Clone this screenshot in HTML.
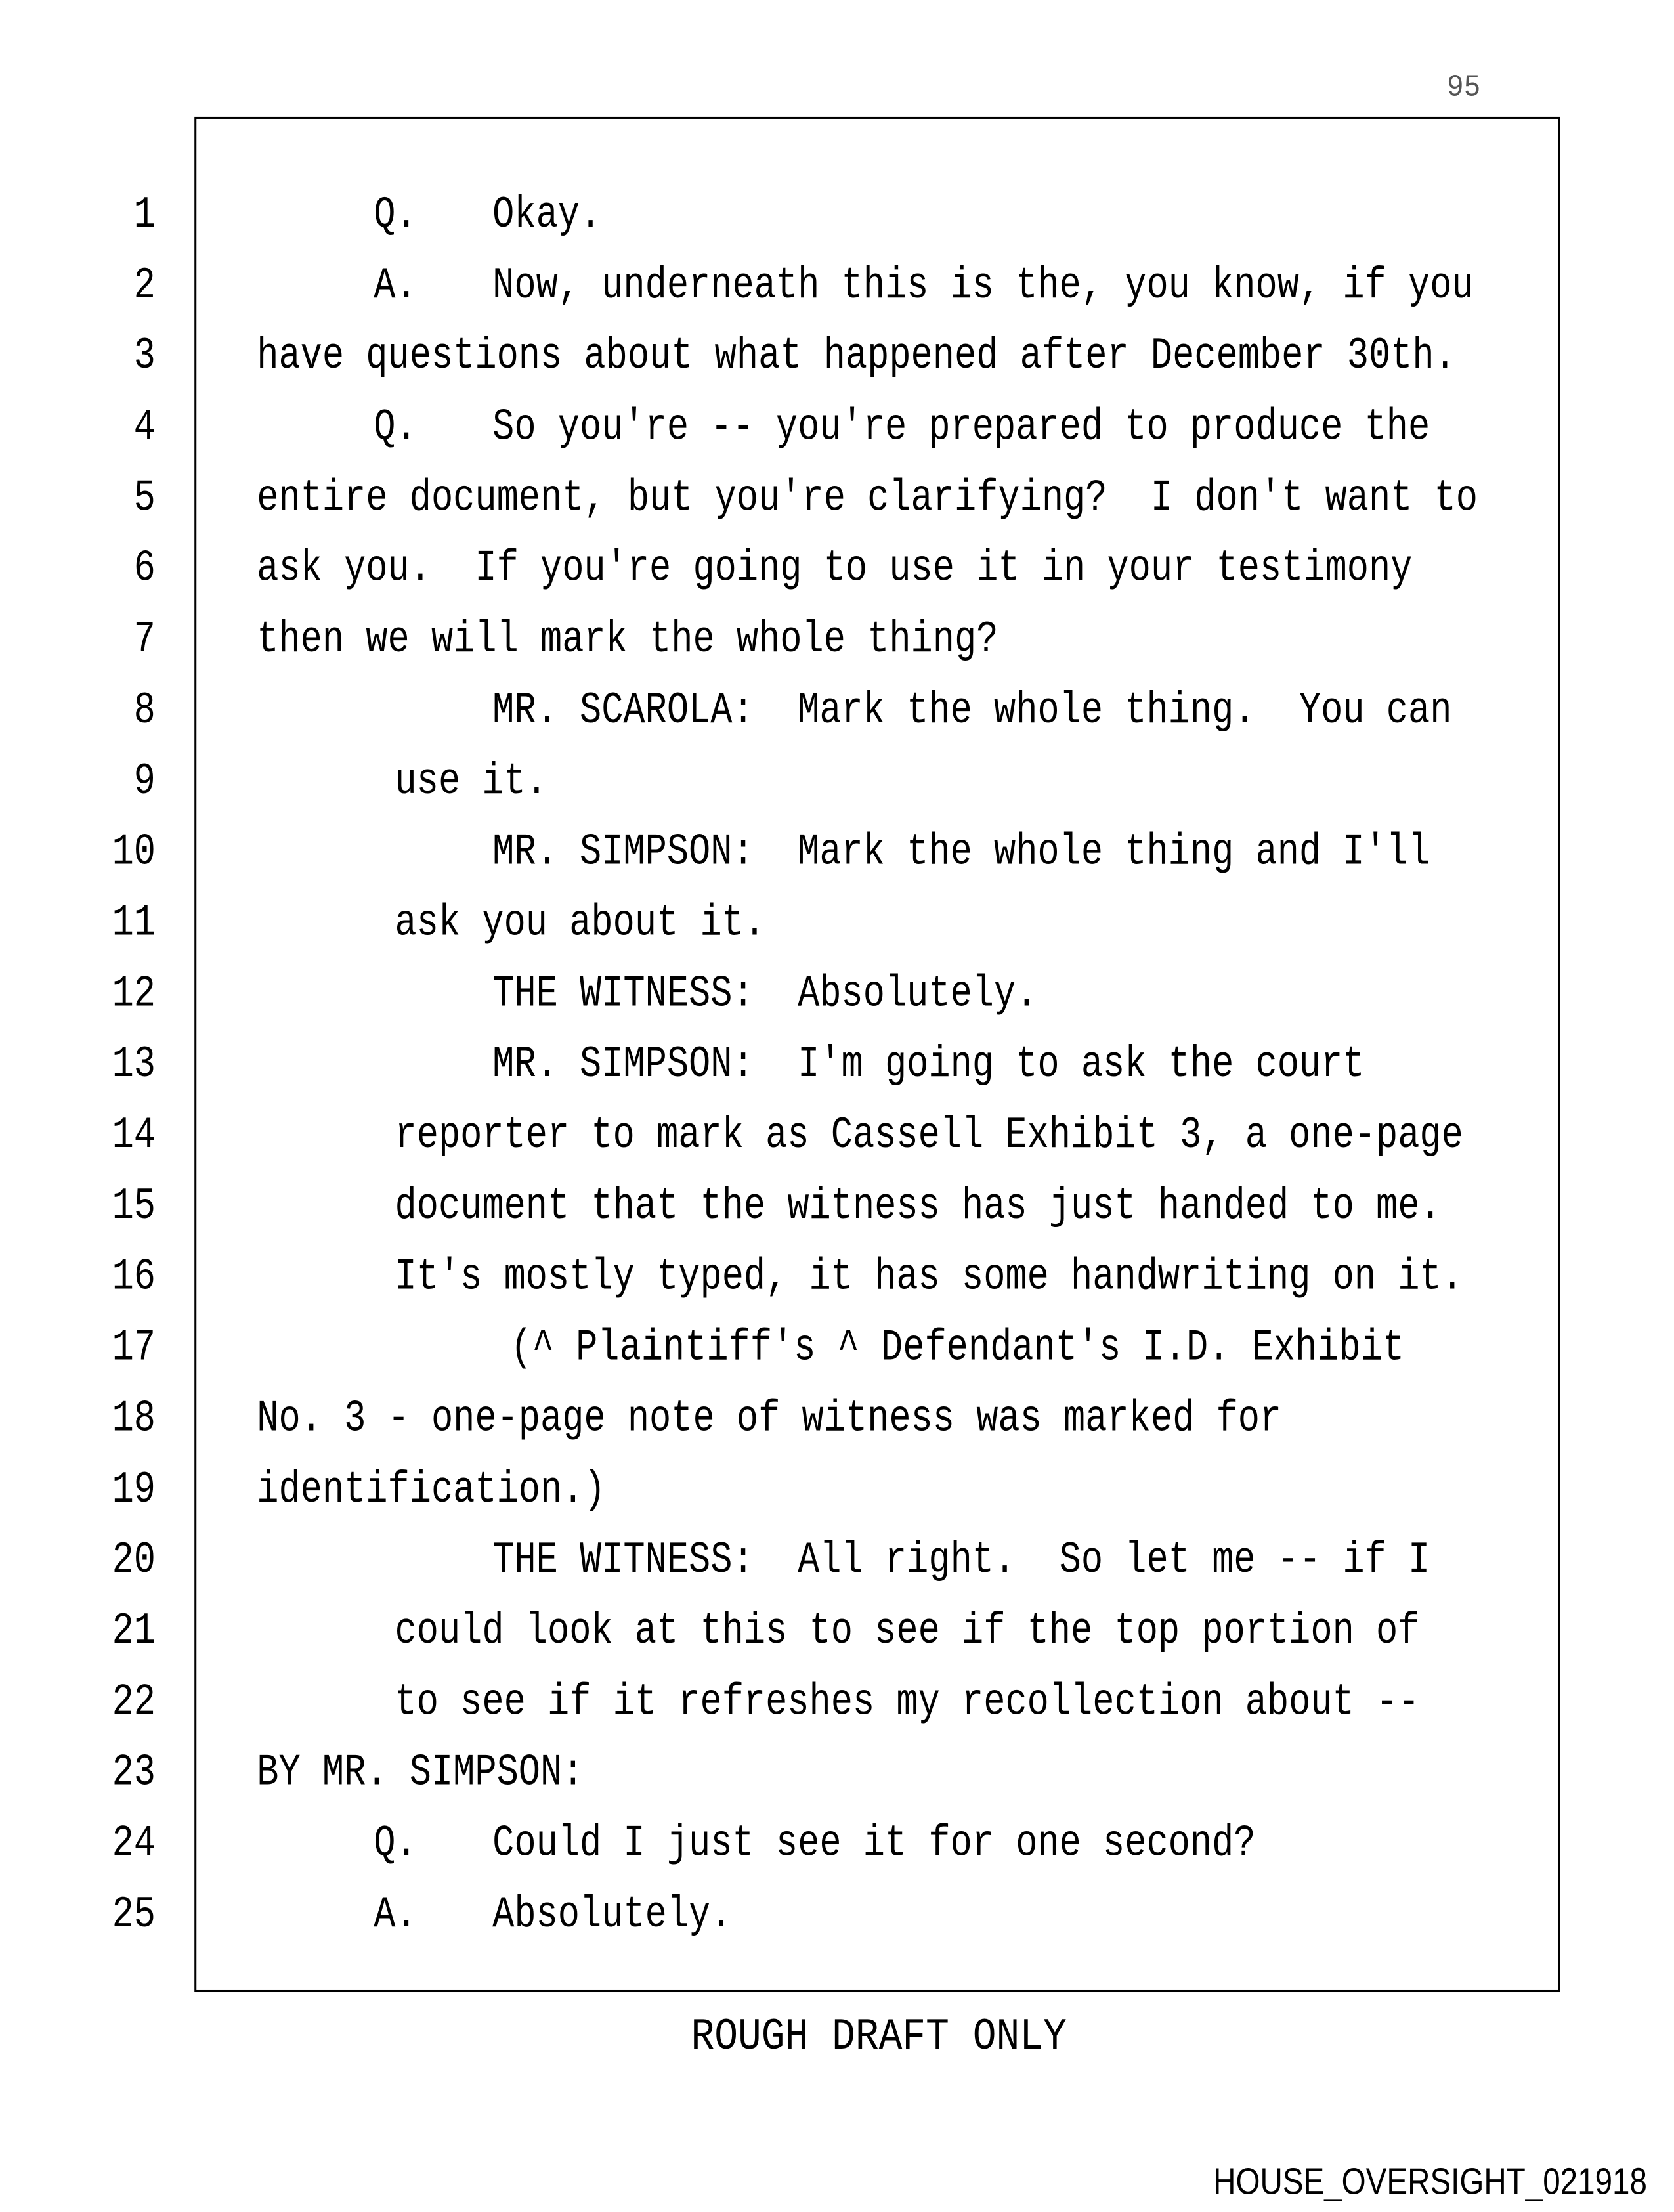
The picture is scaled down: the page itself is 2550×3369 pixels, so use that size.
<!DOCTYPE html>
<html><head><meta charset="utf-8"><style>
body{margin:0;background:#fff;}
#p{position:relative;width:2550px;height:3369px;overflow:hidden;background:#fff;}
#s{position:absolute;left:0;top:0;width:2550px;height:3369px;transform:scale(1.011);transform-origin:0 0;}
.t{position:absolute;font-family:"Liberation Mono",monospace;font-size:67px;line-height:66px;white-space:pre;color:#000;transform:scaleX(0.817);transform-origin:0 0;}
.n{position:absolute;font-family:"Liberation Mono",monospace;font-size:67px;line-height:66px;white-space:pre;color:#000;transform:scaleX(0.817);transform-origin:100% 0;right:2316px;text-align:right;}
#box{position:absolute;left:293px;top:176px;width:2052px;height:2819px;border:3px solid #000;}
</style></head><body><div id="p"><div id="s">
<div id="box"></div>
<div style="position:absolute;left:2180px;top:106px;font-family:'Liberation Mono',monospace;font-size:47px;color:#555;transform:scaleX(0.9);transform-origin:0 0;">95</div>
<div class="t" style="left:1041px;top:3036px;transform:scaleX(0.88)">ROUGH DRAFT ONLY</div>
<div style="position:absolute;left:1828px;top:3258px;font-family:'Liberation Sans',sans-serif;font-size:56px;line-height:56px;white-space:pre;transform:scaleX(0.84);transform-origin:0 0;">HOUSE_OVERSIGHT_021918</div>
<div class="n" style="top:291px">1</div>
<div class="n" style="top:398px">2</div>
<div class="n" style="top:504px">3</div>
<div class="n" style="top:611px">4</div>
<div class="n" style="top:718px">5</div>
<div class="n" style="top:824px">6</div>
<div class="n" style="top:931px">7</div>
<div class="n" style="top:1038px">8</div>
<div class="n" style="top:1145px">9</div>
<div class="n" style="top:1251px">10</div>
<div class="n" style="top:1358px">11</div>
<div class="n" style="top:1465px">12</div>
<div class="n" style="top:1571px">13</div>
<div class="n" style="top:1678px">14</div>
<div class="n" style="top:1785px">15</div>
<div class="n" style="top:1891px">16</div>
<div class="n" style="top:1998px">17</div>
<div class="n" style="top:2105px">18</div>
<div class="n" style="top:2212px">19</div>
<div class="n" style="top:2318px">20</div>
<div class="n" style="top:2425px">21</div>
<div class="n" style="top:2532px">22</div>
<div class="n" style="top:2638px">23</div>
<div class="n" style="top:2745px">24</div>
<div class="n" style="top:2852px">25</div>

<div class="t" style="left:563px;top:291px">Q.</div><div class="t" style="left:742px;top:291px">Okay.</div>
<div class="t" style="left:563px;top:398px">A.</div><div class="t" style="left:742px;top:398px">Now, underneath this is the, you know, if you</div>
<div class="t" style="left:387px;top:504px">have questions about what happened after December 30th.</div>
<div class="t" style="left:563px;top:611px">Q.</div><div class="t" style="left:742px;top:611px">So you're -- you're prepared to produce the</div>
<div class="t" style="left:387px;top:718px">entire document, but you're clarifying?  I don't want to</div>
<div class="t" style="left:387px;top:824px">ask you.  If you're going to use it in your testimony</div>
<div class="t" style="left:387px;top:931px">then we will mark the whole thing?</div>
<div class="t" style="left:742px;top:1038px">MR. SCAROLA:  Mark the whole thing.  You can</div>
<div class="t" style="left:595px;top:1145px">use it.</div>
<div class="t" style="left:742px;top:1251px">MR. SIMPSON:  Mark the whole thing and I'll</div>
<div class="t" style="left:595px;top:1358px">ask you about it.</div>
<div class="t" style="left:742px;top:1465px">THE WITNESS:  Absolutely.</div>
<div class="t" style="left:742px;top:1571px">MR. SIMPSON:  I'm going to ask the court</div>
<div class="t" style="left:595px;top:1678px">reporter to mark as Cassell Exhibit 3, a one-page</div>
<div class="t" style="left:595px;top:1785px">document that the witness has just handed to me.</div>
<div class="t" style="left:595px;top:1891px">It's mostly typed, it has some handwriting on it.</div>
<div class="t" style="left:769px;top:1998px">(^ Plaintiff's ^ Defendant's I.D. Exhibit</div>
<div class="t" style="left:387px;top:2105px">No. 3 - one-page note of witness was marked for</div>
<div class="t" style="left:387px;top:2212px">identification.)</div>
<div class="t" style="left:742px;top:2318px">THE WITNESS:  All right.  So let me -- if I</div>
<div class="t" style="left:595px;top:2425px">could look at this to see if the top portion of</div>
<div class="t" style="left:595px;top:2532px">to see if it refreshes my recollection about --</div>
<div class="t" style="left:387px;top:2638px">BY MR. SIMPSON:</div>
<div class="t" style="left:563px;top:2745px">Q.</div><div class="t" style="left:742px;top:2745px">Could I just see it for one second?</div>
<div class="t" style="left:563px;top:2852px">A.</div><div class="t" style="left:742px;top:2852px">Absolutely.</div>
</div></div></body></html>
